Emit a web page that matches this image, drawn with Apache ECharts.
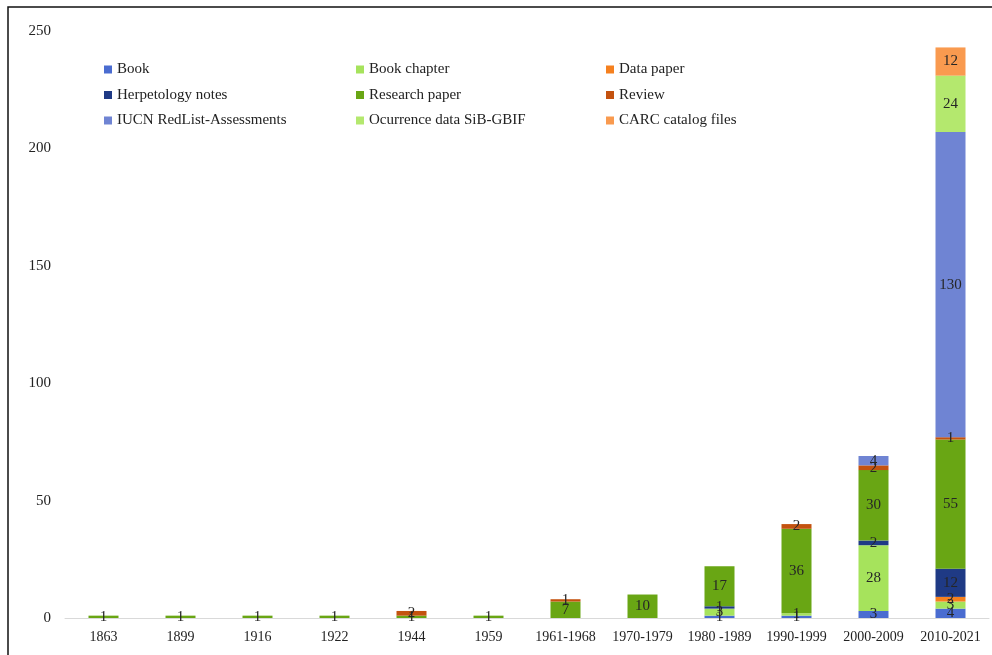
<!DOCTYPE html>
<html>
<head>
<meta charset="utf-8">
<script src="https://cdn.jsdelivr.net/npm/echarts@6/dist/echarts.min.js"></script>
<style>
  html, body { margin: 0; padding: 0; background: #fff; }
  #chart { width: 992px; height: 655px; }
</style>
</head>
<body>
<div id="chart"></div>
<script>
// Periods of publication
const categories = ['1863', '1899', '1916', '1922', '1944', '1959', '1961-1968', '1970-1979', '1980 -1989', '1990-1999', '2000-2009', '2010-2021'];

// Number of records per document type (0 = none)
const book            = [0, 0, 0, 0, 0, 0, 0, 0, 1, 1, 3, 4];
const bookChapter     = [0, 0, 0, 0, 0, 0, 0, 0, 3, 1, 28, 3];
const dataPaper       = [0, 0, 0, 0, 0, 0, 0, 0, 0, 0, 0, 2];
const herpNotes       = [0, 0, 0, 0, 0, 0, 0, 0, 1, 0, 2, 12];
const researchPaper   = [1, 1, 1, 1, 1, 1, 7, 10, 17, 36, 30, 55];
const review          = [0, 0, 0, 0, 2, 0, 1, 0, 0, 2, 2, 1];
const iucn            = [0, 0, 0, 0, 0, 0, 0, 0, 0, 0, 4, 130];
const occurrence      = [0, 0, 0, 0, 0, 0, 0, 0, 0, 0, 0, 24];
const carc            = [0, 0, 0, 0, 0, 0, 0, 0, 0, 0, 0, 12];

const yTicks = { min: 0, max: 250, interval: 50 };

const seriesDefs = [
  { name: 'Book', data: book, color: '#4a6cd0' },
  { name: 'Book chapter', data: bookChapter, color: '#a6e35c' },
  { name: 'Data paper', data: dataPaper, color: '#f5801f' },
  { name: 'Herpetology notes', data: herpNotes, color: '#1f3a85' },
  { name: 'Research paper', data: researchPaper, color: '#69a614' },
  { name: 'Review', data: review, color: '#c4520f' },
  { name: 'IUCN RedList-Assessments', data: iucn, color: '#6f84d3' },
  { name: 'Ocurrence data SiB-GBIF', data: occurrence, color: '#b4e86e' },
  { name: 'CARC catalog files', data: carc, color: '#f99a4f' }
];

const serif = '"Liberation Serif", "DejaVu Serif", serif';

const series = seriesDefs.map(s => ({
  name: s.name,
  type: 'bar',
  stack: 'total',
  barWidth: 30,
  itemStyle: { color: s.color },
  data: s.data.map(v => (v === 0 ? null : v)),
  label: {
    show: true,
    position: 'inside',
    fontFamily: serif,
    fontSize: 15,
    color: '#262626'
  }
}));

const legendBase = {
  orient: 'vertical',
  top: 57,
  icon: 'rect',
  itemWidth: 8,
  itemHeight: 8,
  itemGap: 10.5,
  textStyle: { fontFamily: serif, fontSize: 15, color: '#222', lineHeight: 15 },
  selectedMode: false
};

const option = {
  animation: false,
  backgroundColor: '#fff',
  grid: { left: 65, right: 3, top: 31, bottom: 37 },
  legend: [
    Object.assign({}, legendBase, { left: 99, data: ['Book', 'Herpetology notes', 'IUCN RedList-Assessments'] }),
    Object.assign({}, legendBase, { left: 351, data: ['Book chapter', 'Research paper', 'Ocurrence data SiB-GBIF'] }),
    Object.assign({}, legendBase, { left: 601, data: ['Data paper', 'Review', 'CARC catalog files'] })
  ],
  xAxis: {
    type: 'category',
    data: categories,
    axisLine: { lineStyle: { color: '#d9d9d9', width: 1 } },
    axisTick: { show: false },
    axisLabel: { fontFamily: serif, fontSize: 14, color: '#222', margin: 12, interval: 0 }
  },
  yAxis: {
    type: 'value',
    min: yTicks.min,
    max: yTicks.max,
    interval: yTicks.interval,
    axisLine: { show: false },
    axisTick: { show: false },
    splitLine: { show: false },
    axisLabel: { fontFamily: serif, fontSize: 15, color: '#222', margin: 14 }
  },
  graphic: [{
    type: 'rect',
    shape: { x: 8, y: 7, width: 1000, height: 700 },
    style: { fill: 'none', stroke: '#111', lineWidth: 1.5 },
    silent: true
  }],
  series: series
};

const chart = echarts.init(document.getElementById('chart'));
chart.setOption(option);
</script>
</body>
</html>
